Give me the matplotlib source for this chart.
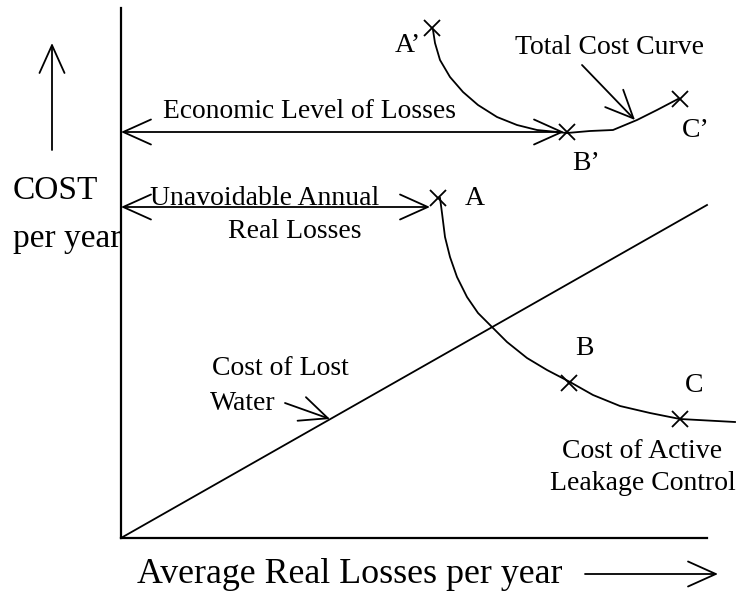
import matplotlib.pyplot as plt

plt.rcParams['font.family'] = ['Liberation Serif', 'DejaVu Serif']

# curve points (units = distance from the axes corner)
lost_water_x = [0, 586]
lost_water_y = [0, 333]

# cost of active leakage control
alc_x = [319, 321, 324, 329, 336, 346, 357, 371, 386, 406, 426, 449, 472, 499, 529, 559, 614]
alc_y = [340, 325, 301, 281, 261, 241, 225, 211, 196, 180, 168, 156, 143, 132, 125, 119, 116]

# total cost curve
total_x = [312, 314, 319, 329, 342, 357, 376, 396, 416, 446, 469, 492, 516, 536, 557]
total_y = [508, 495, 478, 461, 446, 433, 421, 413, 408, 405, 407, 408, 418, 428, 439]

# marked points A, B, C and A', B', C'
pts_x = [317, 448, 559, 311, 446, 559]
pts_y = [340, 155, 119, 510, 406, 439]

# labels: (text, x, y, size)
labels = [
    ("Economic Level of Losses", 42, 420, 19.8),
    ("Total Cost Curve", 394, 484, 20),
    ("A\u2019", 274, 486, 20),
    ("B\u2019", 451, 368, 20),
    ("C\u2019", 561, 401, 20),
    ("A", 344, 333, 20),
    ("B", 454, 183, 20),
    ("C", 564, 146, 20),
    ("Unavoidable Annual", 29, 333, 20),
    ("Real Losses", 107, 300, 20),
    ("Cost of Lost", 91, 163, 20),
    ("Water", 89, 128, 20),
    ("Cost of Active", 441, 80, 20),
    ("Leakage Control", 429, 48, 20),
    ("COST", -108, 339, 24),
    ("per year", -108, 291, 24),
    ("Average Real Losses per year", 16, -45, 25.8),
]

# arrows: (start, end, style)
arrows = [
    ((0, 406), (443, 406), '<->'),
    ((0, 331), (309, 331), '<->'),
    ((164, 135), (209, 119), '->'),
    ((461, 473), (514, 418), '->'),
    ((-69, 388), (-69, 495), '->'),
    ((464, -36), (597, -36), '->'),
]

fig = plt.figure(figsize=(7.42, 5.97), dpi=100)
ax = fig.add_axes([121 / 742, 59 / 597, 586 / 742, 530 / 597])
ax.set_xlim(0, 586)
ax.set_ylim(0, 530)
ax.set_xticks([])
ax.set_yticks([])
for s in ['top', 'right']:
    ax.spines[s].set_visible(False)
for s in ['left', 'bottom']:
    ax.spines[s].set_linewidth(1.6)

lw = 1.3
ax.plot(lost_water_x, lost_water_y, color='black', lw=lw, clip_on=False)
ax.plot(alc_x, alc_y, color='black', lw=lw, clip_on=False)
ax.plot(total_x, total_y, color='black', lw=lw, clip_on=False)
ax.plot(pts_x, pts_y, ls='none', marker='x', ms=12, mew=1.3, color='black', clip_on=False)

for (x0, y0), (x1, y1), st in arrows:
    ax.annotate('', xy=(x1, y1), xytext=(x0, y0), annotation_clip=False,
                arrowprops=dict(arrowstyle=st + ',head_length=1.0,head_width=0.45',
                                mutation_scale=20, lw=lw, color='black',
                                shrinkA=0, shrinkB=0))

for t, x, y, fs in labels:
    ax.text(x, y, t, fontsize=fs, ha='left', va='baseline', clip_on=False)

fig.savefig('out.png', dpi=100)
